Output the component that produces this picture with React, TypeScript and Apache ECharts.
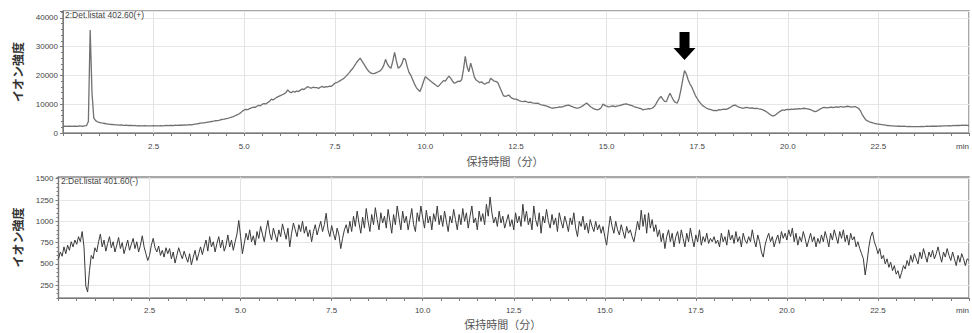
import React, { useEffect, useRef } from 'react';
import * as echarts from 'echarts';

// retention time step between samples (min)
const TIME_STEP = 0.05;

// top chromatogram (m/z 402.60, +), one row per minute (20 samples/min)
const TOP_INTENSITY = [
  2300, 2350, 2300, 2400, 2350, 2300, 2400, 2350, 2300, 2450, 2400, 2350, 2500, 2600, 4000, 35800, 14000, 5200, 4300, 3900,
  3700, 3500, 3400, 3300, 3200, 3100, 3000, 2950, 2900, 2850, 2800, 2750, 2800, 2700, 2650, 2700, 2600, 2650, 2600, 2550,
  2600, 2500, 2550, 2500, 2450, 2550, 2500, 2500, 2450, 2500, 2550, 2500, 2450, 2500, 2600, 2500, 2550, 2600, 2550, 2600,
  2650, 2600, 2700, 2650, 2700, 2750, 2700, 2800, 2750, 2850, 2900, 2850, 3000, 3100, 3200, 3300, 3400, 3500, 3550, 3700,
  3800, 3900, 4000, 4100, 4250, 4300, 4400, 4600, 4700, 4800, 5000, 5100, 5300, 5500, 5700, 6000, 6300, 6600, 7000, 7600,
  8000, 8200, 8100, 8500, 8700, 9000, 8900, 9300, 9600, 9500, 10000, 10200, 10100, 10600, 11000, 11800, 11500, 12000, 12400, 12700,
  13000, 13300, 13600, 14000, 15000, 14300, 14000, 14500, 14200, 14600, 14400, 14900, 15300, 15100, 15600, 16100, 15800, 15600, 15900, 15800,
  15800, 15500, 15900, 16200, 15800, 16100, 16000, 16300, 16200, 16700, 17300, 17500, 17800, 18200, 18600, 19000, 19600, 20300, 21000, 21800,
  22500, 23500, 24500, 25300, 26000, 25000, 24000, 23000, 22000, 21300, 20800, 20600, 20700, 21000, 21300, 21600, 22300, 23500, 25600, 24000,
  23000, 22500, 25000, 28000, 25000, 22500, 23000, 24000, 26000, 25500, 23000, 21000, 20000, 18500, 17000, 15800, 15000, 14400, 16000, 18000,
  19600, 19000, 18500, 18000, 17500, 17000, 16500, 16100, 16800, 17500, 18200, 18000, 19000, 19800, 19000, 18000, 17300, 17600, 18000, 17900,
  18500, 22000, 26600, 23000, 21300, 24300, 22000, 19500, 18400, 18000, 17500, 17800, 17200, 17000, 17500, 17500, 19000, 18500, 18000, 17900,
  17500, 16000, 14500, 13000, 12700, 12900, 13200, 12500, 12000, 11800, 11800, 11500, 11200, 11000, 10900, 11100, 10800, 10600, 10700, 10500,
  10400, 10300, 10400, 10000, 9800, 9700, 9500, 9300, 9100, 8800, 8600, 8700, 8800, 8900, 9100, 9000, 9200, 9400, 9600, 9700,
  9400, 9200, 8900, 8700, 8600, 8800, 9100, 9500, 10000, 10400, 9800, 9200, 8800, 8400, 8200, 8000, 8300, 8800, 10100, 9600,
  9300, 9100, 9200, 9400, 9300, 9200, 9400, 9500, 9700, 9900, 10000, 10100, 9900, 9700, 9500, 9200, 9000, 8800, 8600, 8500,
  8000, 8200, 8300, 8500, 8400, 8600, 9000, 9800, 11000, 12000, 12700, 11800, 11000, 10900, 12500, 13800, 12500, 11300, 10600, 10400,
  12000, 15000, 18500, 21700, 20500, 18500, 17000, 16000, 14500, 13000, 12000, 11000, 10200, 9500, 9100, 8700, 8400, 8200, 8000, 7800,
  7900, 7800, 8100, 8000, 8200, 8300, 8200, 8500, 8800, 9200, 9600, 9700, 9300, 9000, 8800, 8600, 8700, 8900, 8800, 8600,
  8700, 8600, 8500, 8600, 8400, 8300, 8100, 7800, 7500, 7000, 6500, 6100, 5900, 6200, 6700, 7200, 7600, 8000, 7900, 8100,
  8200, 8100, 8300, 8200, 8400, 8300, 8500, 8400, 8500, 8600, 8500, 8400, 8200, 8000, 7700, 7400, 7600, 8000, 8400, 8700,
  8900, 8800, 8700, 8900, 9000, 8800, 9000, 9100, 8900, 9200, 9100, 9000, 9200, 9300, 9200, 9000, 9100, 9200, 8900, 8600,
  7800, 6500, 5500, 4600, 4200, 3900, 3700, 3500, 3300, 3200, 3100, 3000, 2900, 2800, 2700, 2600, 2550, 2500, 2450, 2400,
  2400, 2350, 2400, 2300, 2350, 2300, 2250, 2300, 2250, 2200, 2250, 2200, 2200, 2250, 2300, 2250, 2300, 2350, 2300, 2350,
  2350, 2400, 2350, 2400, 2450, 2400, 2500, 2450, 2500, 2550, 2500, 2600, 2550, 2600, 2650, 2600, 2700, 2650, 2700, 2650,
  2600,
];

// bottom chromatogram (m/z 401.60, -), one row per minute (20 samples/min)
const BOTTOM_INTENSITY = [
  560, 640, 590, 700, 620, 720, 660, 760, 700, 780, 730, 820, 760, 880, 700, 240, 170, 420, 600, 560,
  690, 640, 760, 850, 700, 780, 650, 740, 820, 690, 760, 640, 720, 810, 680, 750, 620, 700, 780, 660,
  730, 800, 680, 760, 640, 720, 830, 700, 620, 540, 600, 720, 800, 690, 640, 710, 600, 660, 580, 690,
  620, 680, 560, 640, 510, 600, 690, 620, 560, 650, 580, 520, 620, 490, 580, 660, 540, 620, 700, 610,
  700, 780, 650, 820, 700, 760, 640, 740, 820, 690, 780, 650, 720, 840, 700, 780, 660, 760, 850, 1010,
  820, 620, 740, 860, 780, 900, 760, 830, 720, 880, 800, 940, 850, 760, 900, 1010, 860, 780, 920, 840,
  760, 900, 820, 970, 880, 790, 920, 700, 860, 980, 900, 820, 960, 880, 1000, 860, 940, 820, 900, 760,
  880, 960, 840, 920, 1000, 880, 960, 1095, 900, 820, 950, 860, 780, 920, 840, 680, 800, 900, 960, 860,
  1000, 880, 1060, 940, 1120, 980, 860, 1050, 920, 1150, 1000, 880, 1080, 960, 1160, 1020, 900, 1100, 980, 1060,
  920, 1140, 1000, 860, 1080, 960, 1180, 1040, 900, 1120, 980, 1060, 900, 1020, 1150, 960, 880, 1100, 1000, 1180,
  1040, 920, 1130, 980, 1060, 900, 1090, 1000, 1180, 960, 1070, 940, 1120, 1000, 880, 1060, 980, 1140, 1020, 900,
  1080, 960, 1150, 1000, 1100, 920, 1060, 1180, 980, 1040, 900, 1120, 1000, 1090, 960, 1200, 1060, 1285, 1100, 980,
  1050, 940, 1120, 980, 1060, 920, 1000, 1080, 940, 1020, 900, 1100, 980, 1060, 940, 1200, 1000, 1120, 960, 1040,
  900, 1180, 1020, 940, 1100, 860, 1060, 980, 1140, 1000, 920, 1080, 960, 1040, 880, 1100, 1000, 920, 1060, 980,
  880, 1040, 960, 1100, 920, 820, 1000, 940, 1060, 900, 980, 860, 1020, 940, 880, 1000, 900, 960, 860, 940,
  820, 720, 900, 1060, 940, 860, 1000, 900, 840, 960, 880, 800, 940, 860, 900, 820, 760, 880, 1000, 900,
  1130, 940, 1080, 860, 1100, 920, 1020, 880, 960, 820, 900, 760, 860, 680, 820, 900, 760, 860, 700, 820,
  880, 740, 900, 800, 700, 860, 760, 920, 800, 700, 840, 760, 900, 720, 820, 760, 860, 740, 800, 760,
  820, 740, 780, 700, 860, 760, 820, 720, 900, 780, 840, 740, 880, 760, 820, 700, 860, 780, 740, 820,
  760, 900, 780, 700, 840, 760, 640, 580, 720, 800, 860, 760, 820, 700, 780, 840, 740, 880, 800, 860,
  780, 900, 820, 920, 760, 860, 720, 820, 760, 880, 800, 700, 780, 860, 760, 820, 700, 800, 740, 840,
  760, 880, 800, 700, 860, 780, 900, 820, 740, 880, 800, 900, 760, 840, 720, 860, 780, 820, 700, 760,
  680, 620, 560, 370, 520, 700, 820, 875, 760, 700, 620, 680, 560, 600, 500, 560, 460, 520, 420, 480,
  380, 420, 330, 400, 480, 440, 540, 480, 600, 520, 620, 560, 500, 640, 560, 680, 600, 520, 640, 580,
  660, 560, 620, 700, 600, 520, 640, 580, 680, 600, 540, 640, 560, 480, 600, 520, 620, 560, 480, 560,
  540,
];

const BOTTOM_Y_LABELS = [250, 500, 750, 1000, 1250, 1500];
const TOP_TITLE = '2:Det.listat 402.60(+)';
const BOTTOM_TITLE = '2:Det.listat 401.60(-)';
const Y_NAME = 'イオン強度';
const X_NAME = '保持時間（分）';
const ARROW_TIME = 17.15;
const ARROW_TIP = 25400;

const toPairs = (vals: number[]) => vals.map((v, i) => [Math.round(i * TIME_STEP * 100) / 100, v]);

const FONT = "'Liberation Sans', 'Noto Sans CJK JP', sans-serif";
const AXIS_COLOR = '#7a7a7a';

function xAxisFor(gridIndex: number, margin: number, nameGap: number) {
  return {
    type: 'value',
    gridIndex,
    min: 0,
    max: 25,
    interval: 2.5,
    axisLine: { show: true, onZero: false, lineStyle: { color: AXIS_COLOR } },
    axisTick: { show: true, length: 3, lineStyle: { color: AXIS_COLOR } },
    minorTick: { show: true, splitNumber: 5, length: 3, lineStyle: { color: AXIS_COLOR } },
    splitLine: { show: true, lineStyle: { color: '#e3e3e3' } },
    minorSplitLine: { show: false },
    axisLabel: {
      fontSize: 8,
      color: '#444',
      margin,
      showMinLabel: false,
      showMaxLabel: true,
      alignMaxLabel: 'right',
      formatter: (v: number) => (v >= 25 ? 'min' : v.toFixed(1)),
    },
    name: X_NAME,
    nameLocation: 'middle',
    nameGap,
    nameTextStyle: { fontSize: 11, color: '#555', padding: [0, 22, 0, 0] },
  };
}

export default function App() {
  const ref = useRef<HTMLDivElement>(null);
  useEffect(() => {
    if (!ref.current) return;
    const chart = echarts.init(ref.current, null, { renderer: 'svg' });
    const option = {
      animation: false,
      textStyle: { fontFamily: FONT },
      grid: [
        { left: 63, top: 11, right: -2, height: 122, show: true, borderColor: '#8c8c8c', borderWidth: 1.5, backgroundColor: 'transparent' },
        { left: 58.5, top: 177, right: -2, height: 121, show: true, borderColor: '#8c8c8c', borderWidth: 1.5, backgroundColor: 'transparent' },
      ],
      xAxis: [xAxisFor(0, 9, 23), xAxisFor(1, 8, 21)],
      yAxis: [
        {
          type: 'value',
          gridIndex: 0,
          min: 0,
          max: 42400,
          interval: 10000,
          axisLine: { show: true, lineStyle: { color: AXIS_COLOR } },
          axisTick: { show: true, length: 3, lineStyle: { color: AXIS_COLOR } },
          minorTick: { show: true, splitNumber: 5, length: 2, lineStyle: { color: AXIS_COLOR } },
          splitLine: { show: true, lineStyle: { color: '#e6e6e6' } },
          axisLabel: { fontSize: 8, color: '#444', margin: 5, showMaxLabel: false, formatter: (v: number) => String(v) },
          name: Y_NAME,
          nameLocation: 'middle',
          nameGap: 30,
          nameTextStyle: { fontSize: 12, fontWeight: 'bold', color: '#333' },
        },
        {
          type: 'value',
          gridIndex: 1,
          min: 100,
          max: 1520,
          axisLine: { show: true, lineStyle: { color: AXIS_COLOR } },
          axisTick: { show: true, length: 3, customValues: BOTTOM_Y_LABELS, lineStyle: { color: AXIS_COLOR } },
          splitLine: { show: true, lineStyle: { color: '#e6e6e6' } },
          axisLabel: { fontSize: 8, color: '#444', margin: 5, customValues: BOTTOM_Y_LABELS, formatter: (v: number) => String(v) },
          name: Y_NAME,
          nameLocation: 'middle',
          nameGap: 26,
          nameTextStyle: { fontSize: 12, fontWeight: 'bold', color: '#333' },
        },
        {
          type: 'value',
          gridIndex: 1,
          position: 'left',
          min: 100,
          max: 1520,
          interval: 50,
          axisLine: { show: false },
          axisTick: { show: true, length: 2, lineStyle: { color: AXIS_COLOR } },
          splitLine: { show: false },
          axisLabel: { show: false },
        },
      ],
      graphic: [
        { type: 'text', left: 65, top: 11, z: 10, style: { text: TOP_TITLE, fontSize: 8.5, fill: '#444', fontFamily: FONT } },
        { type: 'text', left: 61, top: 177, z: 10, style: { text: BOTTOM_TITLE, fontSize: 8.5, fill: '#444', fontFamily: FONT } },
      ],
      series: [
        {
          type: 'line',
          xAxisIndex: 0,
          yAxisIndex: 0,
          data: toPairs(TOP_INTENSITY),
          showSymbol: false,
          lineStyle: { color: '#707070', width: 1.3 },
          markPoint: {
            symbol: 'path://M6,0 L16,0 L16,16 L22,16 L11,28 L0,16 L6,16 Z',
            symbolSize: [22, 28],
            symbolOffset: [0, '-50%'],
            itemStyle: { color: '#000' },
            label: { show: false },
            data: [{ coord: [ARROW_TIME, ARROW_TIP] }],
          },
        },
        {
          type: 'line',
          xAxisIndex: 1,
          yAxisIndex: 1,
          data: toPairs(BOTTOM_INTENSITY),
          showSymbol: false,
          lineStyle: { color: '#3a3a3a', width: 1 },
        },
      ],
    };
    chart.setOption(option as any);
    return () => chart.dispose();
  }, []);
  return <div ref={ref} style={{ position: 'absolute', left: 0, top: 0, width: 972, height: 333 }} />;
}
